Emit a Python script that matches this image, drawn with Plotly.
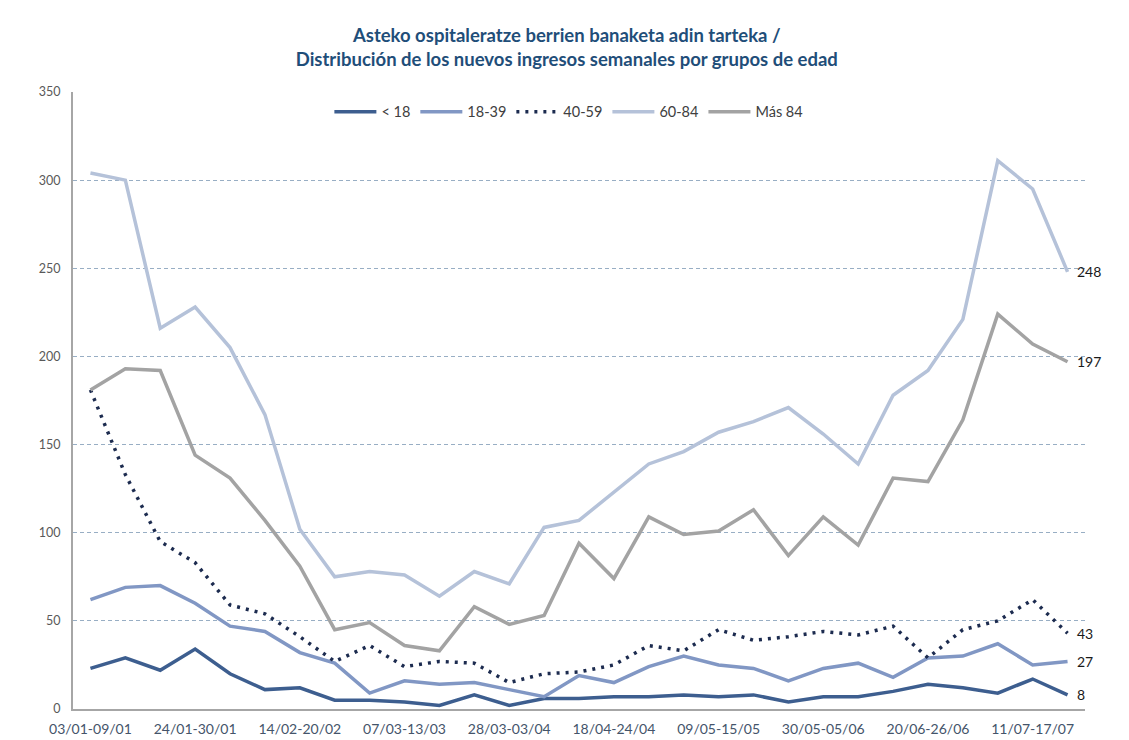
import plotly.graph_objects as go

weeks = [
    "03/01-09/01", "10/01-16/01", "17/01-23/01", "24/01-30/01", "31/01-06/02",
    "07/02-13/02", "14/02-20/02", "21/02-27/02", "28/02-06/03", "07/03-13/03",
    "14/03-20/03", "21/03-27/03", "28/03-03/04", "04/04-10/04", "11/04-17/04",
    "18/04-24/04", "25/04-01/05", "02/05-08/05", "09/05-15/05", "16/05-22/05",
    "23/05-29/05", "30/05-05/06", "06/06-12/06", "13/06-19/06", "20/06-26/06",
    "27/06-03/07", "04/07-10/07", "11/07-17/07", "18/07-24/07",
]
tick_weeks = weeks[::3]

under_18 = [23, 29, 22, 34, 20, 11, 12, 5, 5, 4, 2, 8, 2, 6, 6, 7, 7, 8, 7, 8, 4, 7, 7, 10, 14, 12, 9, 17, 8]
age_18_39 = [62, 69, 70, 60, 47, 44, 32, 26, 9, 16, 14, 15, 11, 7, 19, 15, 24, 30, 25, 23, 16, 23, 26, 18, 29, 30, 37, 25, 27]
age_40_59 = [181, 133, 95, 83, 59, 54, 41, 27, 36, 24, 27, 26, 15, 20, 21, 25, 36, 33, 45, 39, 41, 44, 42, 47, 29, 45, 50, 62, 43]
age_60_84 = [304, 300, 216, 228, 205, 167, 102, 75, 78, 76, 64, 78, 71, 103, 107, 123, 139, 146, 157, 163, 171, 156, 139, 178, 192, 221, 311, 295, 248]
over_84 = [181, 193, 192, 144, 131, 107, 81, 45, 49, 36, 33, 58, 48, 53, 94, 74, 109, 99, 101, 113, 87, 109, 93, 131, 129, 164, 224, 207, 197]

series_names = ["< 18", "18-39", "40-59", "60-84", "Más 84"]
series_values = [under_18, age_18_39, age_40_59, age_60_84, over_84]
series_colors = ["#3D5E8F", "#8197C4", "#1C2B4F", "#B5C2D9", "#A3A3A3"]
series_dash = ["solid", "solid", "3px,6px", "solid", "solid"]

font_family = "Lato, 'Open Sans', sans-serif"

fig = go.Figure()
for name, vals, col, dash in zip(series_names, series_values, series_colors, series_dash):
    fig.add_trace(go.Scatter(
        x=weeks, y=vals, name=name, mode="lines",
        line=dict(color=col, width=3.5, dash=dash),
    ))

# end labels for the last week
for vals in series_values:
    fig.add_annotation(
        x=weeks[-1], y=vals[-1], text=str(vals[-1]),
        xanchor="left", yanchor="middle", xshift=7, showarrow=False,
        font=dict(family=font_family, size=14, color="#1A1A1A"),
    )

fig.update_layout(
    width=1129, height=740,
    paper_bgcolor="white", plot_bgcolor="white",
    margin=dict(l=73, r=44, t=92, b=31),
    title=dict(
        text="Asteko ospitaleratze berrien banaketa adin tarteka /<br>Distribución de los nuevos ingresos semanales por grupos de edad",
        x=0.502, xanchor="center", y=0.943, yanchor="middle",
        font=dict(family=font_family, size=18.5, color="#1F4E79", weight="bold"),
    ),
    legend=dict(
        orientation="h", x=0.49, xanchor="center", y=0.968, yanchor="middle",
        bgcolor="rgba(0,0,0,0)", font=dict(family=font_family, size=14.5, color="#404040"),
        itemwidth=42, traceorder="normal",
    ),
    showlegend=True,
)

fig.update_xaxes(
    type="category", range=[-0.5, len(weeks) - 0.5],
    tickmode="array", tickvals=tick_weeks, ticktext=tick_weeks,
    showgrid=False, showline=True, linecolor="#A6A6A6", linewidth=1.5,
    ticks="", ticklabelstandoff=6, automargin=False,
    tickfont=dict(family=font_family, size=14, color="#44546A"),
)
fig.update_yaxes(
    range=[0, 350], dtick=50, tick0=0,
    showgrid=True, gridcolor="#98AEC4", gridwidth=1, griddash="4px,3px",
    zeroline=False, showline=True, linecolor="#A6A6A6", linewidth=2,
    ticks="", ticklabelstandoff=8, automargin=False,
    tickfont=dict(family=font_family, size=12.5, color="#595959"),
)

fig.write_html(
    "out.html",
    config={"displayModeBar": False},
    post_script="document.body.style.margin='0';",
)
